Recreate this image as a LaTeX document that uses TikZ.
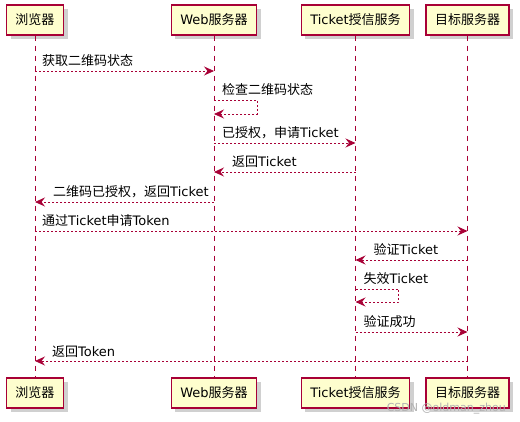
\documentclass[tikz,border=0pt]{standalone}
\usepackage{fontspec}
\setmainfont{DejaVu Sans}
\newfontfamily\cjk{Noto Sans CJK SC}
\usetikzlibrary{arrows.meta,shadows}
\definecolor{pline}{HTML}{A80036}
\definecolor{pfill}{HTML}{FEFECE}
\tikzset{
 part/.style={draw=pline, fill=pfill, line width=1.1pt, minimum height=30pt, inner xsep=9pt, inner ysep=0pt,
   font=\fontsize{13}{15}\selectfont,
   drop shadow={shadow xshift=4pt, shadow yshift=-4pt, fill=black!30, opacity=0.6}},
 life/.style={draw=pline, line width=0.8pt, dash pattern=on 5pt off 5pt},
 msg/.style={draw=pline, line width=0.8pt, dash pattern=on 2pt off 2pt,
   -{Stealth[length=10pt,width=9pt,inset=3.5pt,fill=pline]}},
 lbl/.style={font=\fontsize{13}{15}\selectfont, anchor=base west, inner sep=0pt},
}
\begin{document}
\begin{tikzpicture}[x=1pt,y=-1pt]
\useasboundingbox (0,0) rectangle (520,422);
\fill[white] (0,0) rectangle (520,422);
% participants
\node[part] (A1) at (35,20) {\cjk 浏览器};
\node[part] (B1) at (214,20) {Web{\cjk 服务器}};
\node[part] (C1) at (355.5,20) {Ticket{\cjk 授信服务}};
\node[part] (D1) at (467.5,20) {\cjk 目标服务器};
\node[part] (A2) at (35,393) {\cjk 浏览器};
\node[part] (B2) at (214,393) {Web{\cjk 服务器}};
\node[part] (C2) at (355.5,393) {Ticket{\cjk 授信服务}};
\node[part] (D2) at (467.5,393) {\cjk 目标服务器};
% lifelines
\draw[life] (A1.south) -- (A2.north);
\draw[life] (B1.south) -- (B2.north);
\draw[life] (C1.south) -- (C2.north);
\draw[life] (D1.south) -- (D2.north);
% message endpoints
\coordinate (a1) at (35,71);  \coordinate (b1) at (214,71);
\coordinate (b2) at (214,100); \coordinate (b2e) at (214,114);
\coordinate (b3) at (214,143); \coordinate (c3) at (355.5,143);
\coordinate (c4) at (355.5,172); \coordinate (b4) at (214,172);
\coordinate (b5) at (214,202); \coordinate (a5) at (35,202);
\coordinate (a6) at (35,231); \coordinate (d6) at (467.5,231);
\coordinate (d7) at (467.5,260); \coordinate (c7) at (355.5,260);
\coordinate (c8) at (355.5,289); \coordinate (c8e) at (355.5,302);
\coordinate (c9) at (355.5,332); \coordinate (d9) at (467.5,332);
\coordinate (d10) at (467.5,361); \coordinate (a10) at (35,361);
% messages
\draw[msg] (a1) -- (b1);
\node[lbl] (m1) at ([xshift=7pt,yshift=5pt]a1) {\cjk 获取二维码状态};
\draw[msg] (b2) -- ++(43,0) -- ++(0,14) -- (b2e);
\node[lbl] (m2) at ([xshift=8pt,yshift=5pt]b2) {\cjk 检查二维码状态};
\draw[msg] (b3) -- (c3);
\node[lbl] (m3) at ([xshift=8pt,yshift=5pt]b3) {{\cjk 已授权，申请}Ticket};
\draw[msg] (c4) -- (b4);
\node[lbl] (m4) at ([xshift=18pt,yshift=5pt]b4) {{\cjk 返回}Ticket};
\draw[msg] (b5) -- (a5);
\node[lbl] (m5) at ([xshift=18pt,yshift=5pt]a5) {{\cjk 二维码已授权，返回}Ticket};
\draw[msg] (a6) -- (d6);
\node[lbl] (m6) at ([xshift=7pt,yshift=5pt]a6) {{\cjk 通过}Ticket{\cjk 申请}Token};
\draw[msg] (d7) -- (c7);
\node[lbl] (m7) at ([xshift=18pt,yshift=5pt]c7) {{\cjk 验证}Ticket};
\draw[msg] (c8) -- ++(43,0) -- ++(0,13) -- (c8e);
\node[lbl] (m8) at ([xshift=8pt,yshift=5pt]c8) {{\cjk 失效}Ticket};
\draw[msg] (c9) -- (d9);
\node[lbl] (m9) at ([xshift=8pt,yshift=5pt]c9) {\cjk 验证成功};
\draw[msg] (d10) -- (a10);
\node[lbl] (m10) at ([xshift=17pt,yshift=5pt]a10) {{\cjk 返回}Token};
% watermark
\node[anchor=base east, inner sep=0pt, text=black!30, font=\fontsize{11}{13}\selectfont] (wm) at (506,411) {CSDN @oldman\_zhou};
\end{tikzpicture}
\end{document}
